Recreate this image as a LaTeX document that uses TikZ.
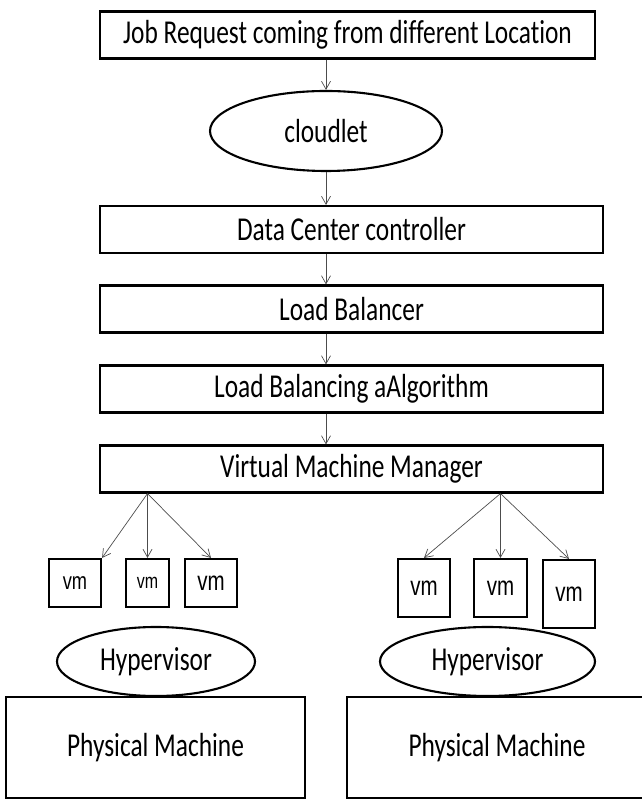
\documentclass[tikz,border=0pt]{standalone}
\usepackage{fontspec}
\setmainfont{Carlito}[FakeStretch=0.76,Ligatures=NoCommon]
\newfontfamily\vmfont{Liberation Sans}[FakeStretch=0.76]
\usetikzlibrary{shapes.geometric,arrows.meta}

\begin{document}
\begin{tikzpicture}[x=1pt,y=1pt, >={Straight Barb[length=8pt,width=9pt]},
    box/.style={draw,line width=2.1pt,inner sep=0pt,minimum height=47pt,
        font=\fontsize{33.4}{40}\selectfont},
    oval/.style={ellipse,draw,line width=2.1pt,inner sep=0pt,
        font=\fontsize{33.4}{40}\selectfont},
    vmbox/.style={draw,line width=2.1pt,inner sep=0pt,minimum width=52pt,
        font=\vmfont\fontsize{27}{30}\selectfont},
    arr/.style={->,line width=0.7pt,black!70}]
    \useasboundingbox (0,0) rectangle (641,800);
    % main chain
    \node[box,minimum width=495pt] (job) at (347.5,765)
        {Job Request coming from different Location};
    \node[oval,minimum width=232pt,minimum height=80pt] (cloud) at (326,669) {cloudlet};
    \node[box,minimum width=503pt] (dc) at (351.5,570.5) {Data Center controller};
    \node[box,minimum width=503pt] (lb) at (351.5,491) {Load Balancer};
    \node[box,minimum width=503pt] (lba) at (351.5,411) {Load Balancing aAlgorithm};
    \node[box,minimum width=503pt] (vmm) at (351.5,331) {Virtual Machine Manager};
    \draw[arr] (job.south -| cloud) -- (cloud.north);
    \draw[arr] (cloud.south) -- (cloud.south |- dc.north);
    \draw[arr] (dc.south -| cloud) -- (lb.north -| cloud);
    \draw[arr] (lb.south -| cloud) -- (lba.north -| cloud);
    \draw[arr] (lba.south -| cloud) -- (vmm.north -| cloud);
    % virtual machines
    \node[vmbox,minimum height=48pt,font=\vmfont\fontsize{24}{28}\selectfont] (vm1) at (75,217) {vm};
    \node[vmbox,minimum height=48pt,minimum width=43pt,font=\vmfont\fontsize{21}{24}\selectfont] (vm2) at (147.5,217) {vm};
    \node[vmbox,minimum height=48pt] (vm3) at (211,217) {vm};
    \node[vmbox,minimum height=58pt] (vm4) at (424,212) {vm};
    \node[vmbox,minimum height=58pt,minimum width=53pt] (vm5) at (500.5,212) {vm};
    \node[vmbox,minimum height=68pt] (vm6) at (569,206) {vm};
    \coordinate (fanL) at (vmm.south -| vm2.north);
    \coordinate (fanR) at (vmm.south -| vm5.north);
    \foreach \t in {vm1.north east,vm2.north,vm3.north}
        \draw[arr] (fanL) -- (\t);
    \foreach \t in {vm4.north,vm5.north,vm6.north}
        \draw[arr] (fanR) -- (\t);
    % hosts
    \node[oval,minimum width=198pt,minimum height=69pt] (hyp1) at (156,138.5) {Hypervisor};
    \node[oval,minimum width=215pt,minimum height=69pt] (hyp2) at (487.5,138.5) {Hypervisor};
    \node[box,minimum width=299pt,minimum height=101pt] (pm1) at (155.5,52.5) {Physical Machine};
    \node[box,minimum width=300pt,minimum height=101pt] (pm2) at (497,52.5) {Physical Machine};
\end{tikzpicture}
\end{document}
